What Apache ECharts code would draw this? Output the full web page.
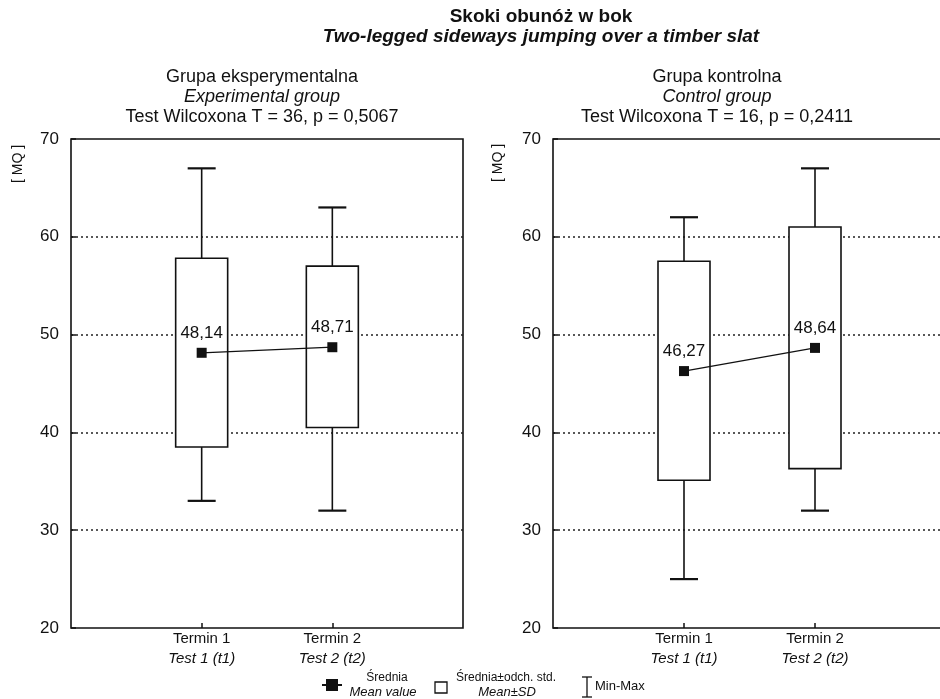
<!DOCTYPE html>
<html>
<head>
<meta charset="utf-8">
<title>Skoki obunóż w bok</title>
<script src="https://cdn.jsdelivr.net/npm/echarts@6/dist/echarts.min.js"></script>
<style>html,body{margin:0;padding:0;background:#fff;}</style>
</head>
<body>
<div id="main" style="width:940px;height:699px;"></div>
<script type="text/javascript">
var terms = ['Termin 1', 'Termin 2'];
var termsEn = ['Test 1 (t1)', 'Test 2 (t2)'];
var yTicks = [20, 30, 40, 50, 60, 70];

// grupa eksperymentalna
var expMean = [48.14, 48.71];
var expSdLow = [38.5, 40.5];
var expSdHigh = [57.8, 57.0];
var expMin = [33, 32];
var expMax = [67, 63];

// grupa kontrolna
var ctrlMean = [46.27, 48.64];
var ctrlSdLow = [35.1, 36.3];
var ctrlSdHigh = [57.5, 61.0];
var ctrlMin = [25, 32];
var ctrlMax = [62, 67];

var groupNames = ['Grupa eksperymentalna', 'Grupa kontrolna'];
var groupNamesEn = ['Experimental group', 'Control group'];
var wilcoxonT = [36, 16];
var pValues = ['0,5067', '0,2411'];

var FONT = '"Liberation Sans", Arial, sans-serif';
var INK = '#111';

var myChart = echarts.init(document.getElementById('main'));

function meanData(m) {
    return m.map(function (v, i) { return [i + 1, v]; });
}
function boxData(lo, hi) {
    return lo.map(function (v, i) { return [i + 1, v, hi[i]]; });
}
function whiskerData(mn, lo, hi, mx) {
    return mn.map(function (v, i) { return [i + 1, v, lo[i], hi[i], mx[i]]; });
}

function renderBox(params, api) {
    var lo = api.coord([api.value(0), api.value(1)]);
    var hi = api.coord([api.value(0), api.value(2)]);
    return {
        type: 'rect',
        shape: { x: lo[0] - 26, y: hi[1], width: 52, height: lo[1] - hi[1] },
        style: { fill: '#fff', stroke: INK, lineWidth: 1.6 }
    };
}

function renderWhisker(params, api) {
    var x = api.value(0);
    var pMin = api.coord([x, api.value(1)]);
    var pLo = api.coord([x, api.value(2)]);
    var pHi = api.coord([x, api.value(3)]);
    var pMax = api.coord([x, api.value(4)]);
    var st = { stroke: INK, lineWidth: 1.6 };
    var cap = { stroke: INK, lineWidth: 2.2 };
    return {
        type: 'group',
        children: [
            { type: 'line', shape: { x1: pMax[0], y1: pMax[1], x2: pHi[0], y2: pHi[1] }, style: st },
            { type: 'line', shape: { x1: pLo[0], y1: pLo[1], x2: pMin[0], y2: pMin[1] }, style: st },
            { type: 'line', shape: { x1: pMax[0] - 14, y1: pMax[1], x2: pMax[0] + 14, y2: pMax[1] }, style: cap },
            { type: 'line', shape: { x1: pMin[0] - 14, y1: pMin[1], x2: pMin[0] + 14, y2: pMin[1] }, style: cap }
        ]
    };
}

function xAxisFor(idx) {
    return {
        type: 'value', gridIndex: idx, min: 0, max: terms.length + 1, interval: 1,
        axisLine: { show: false },
        axisTick: { show: true, inside: true, length: 5, lineStyle: { color: INK, width: 1.5 } },
        splitLine: { show: false },
        axisLabel: {
            margin: 1, fontSize: 15, lineHeight: 20, color: INK, fontFamily: FONT,
            showMinLabel: false, showMaxLabel: false,
            formatter: function (v) {
                var i = v - 1;
                if (i < 0 || i >= terms.length) return '';
                return terms[i] + '\n{en|' + termsEn[i] + '}';
            },
            rich: { en: { fontStyle: 'italic', fontSize: 15, lineHeight: 20, color: INK, fontFamily: FONT } }
        }
    };
}

function yAxisFor(idx) {
    return {
        type: 'value', gridIndex: idx,
        min: yTicks[0], max: yTicks[yTicks.length - 1], interval: yTicks[1] - yTicks[0],
        axisLine: { show: false },
        axisTick: { show: true, inside: true, length: 5, lineStyle: { color: INK, width: 1.5 } },
        axisLabel: { margin: 12, fontSize: 17, color: INK, fontFamily: FONT },
        splitLine: {
            show: true, showMinLine: false, showMaxLine: false,
            lineStyle: { color: '#222', width: 1.5, type: [2, 3] }
        }
    };
}

function seriesFor(idx, mean, lo, hi, mn, mx) {
    return [
        {
            name: 'Min-Max', type: 'custom', xAxisIndex: idx, yAxisIndex: idx,
            renderItem: renderWhisker, data: whiskerData(mn, lo, hi, mx),
            encode: { x: 0, y: [1, 4] }, z: 2, silent: true
        },
        {
            name: 'Średnia±odch. std.', type: 'custom', xAxisIndex: idx, yAxisIndex: idx,
            renderItem: renderBox, data: boxData(lo, hi),
            encode: { x: 0, y: [1, 2] }, z: 3, silent: true
        },
        {
            name: 'Średnia', type: 'line', xAxisIndex: idx, yAxisIndex: idx,
            data: meanData(mean), z: 5,
            symbol: 'rect', symbolSize: 10,
            itemStyle: { color: INK },
            lineStyle: { color: INK, width: 1.3 },
            label: {
                show: true, position: 'top', distance: 6,
                fontSize: 17, color: INK, fontFamily: FONT,
                formatter: function (p) { return p.value[1].toFixed(2).replace('.', ','); }
            }
        }
    ];
}

function txt(x, y, text, font, align) {
    return {
        type: 'text', x: x, y: y, silent: true,
        style: { text: text, fill: INK, font: font, textAlign: align || 'center', textVerticalAlign: 'middle' }
    };
}

var subCenters = [262, 717];
var graphics = [
    txt(541, 17, 'Skoki obunóż w bok', 'bold 19px ' + FONT),
    txt(541, 37, 'Two-legged sideways jumping over a timber slat', 'italic bold 19px ' + FONT)
];
subCenters.forEach(function (cx, i) {
    graphics.push(txt(cx, 77, groupNames[i], '18px ' + FONT));
    graphics.push(txt(cx, 97, groupNamesEn[i], 'italic 18px ' + FONT));
    graphics.push(txt(cx, 117, 'Test Wilcoxona T = ' + wilcoxonT[i] + ', p = ' + pValues[i], '18px ' + FONT));
});
[[18, 164], [498, 163]].forEach(function (p) {
    var t = txt(p[0], p[1], '[ MQ ]', '14px ' + FONT);
    t.rotation = Math.PI / 2;
    graphics.push(t);
});

// legenda
graphics.push(
    { type: 'line', shape: { x1: 322, y1: 685, x2: 342, y2: 685 }, style: { stroke: INK, lineWidth: 2 } },
    { type: 'rect', shape: { x: 326, y: 679, width: 12, height: 12 }, style: { fill: INK } },
    txt(387, 678, 'Średnia', '12px ' + FONT),
    txt(383, 692, 'Mean value', 'italic 13px ' + FONT),
    { type: 'rect', shape: { x: 435, y: 682, width: 12, height: 11 }, style: { fill: '#fff', stroke: INK, lineWidth: 1.3 } },
    txt(506, 678, 'Średnia±odch. std.', '12px ' + FONT),
    txt(507, 692, 'Mean±SD', 'italic 13px ' + FONT),
    { type: 'line', shape: { x1: 587, y1: 677, x2: 587, y2: 697 }, style: { stroke: INK, lineWidth: 1.3 } },
    { type: 'line', shape: { x1: 582, y1: 677, x2: 592, y2: 677 }, style: { stroke: INK, lineWidth: 1.3 } },
    { type: 'line', shape: { x1: 582, y1: 697, x2: 592, y2: 697 }, style: { stroke: INK, lineWidth: 1.3 } },
    txt(595, 686, 'Min-Max', '13px ' + FONT, 'left')
);

var option = {
    backgroundColor: '#fff',
    animation: false,
    grid: [
        { left: 71, top: 139, width: 392, height: 489, outerBoundsMode: 'none', show: true, borderColor: INK, borderWidth: 1.6, backgroundColor: 'transparent' },
        { left: 553, top: 139, width: 393, height: 489, outerBoundsMode: 'none', show: true, borderColor: INK, borderWidth: 1.6, backgroundColor: 'transparent' }
    ],
    xAxis: [xAxisFor(0), xAxisFor(1)],
    yAxis: [yAxisFor(0), yAxisFor(1)],
    series: seriesFor(0, expMean, expSdLow, expSdHigh, expMin, expMax)
        .concat(seriesFor(1, ctrlMean, ctrlSdLow, ctrlSdHigh, ctrlMin, ctrlMax)),
    graphic: graphics
};
myChart.setOption(option);
</script>
</body>
</html>
